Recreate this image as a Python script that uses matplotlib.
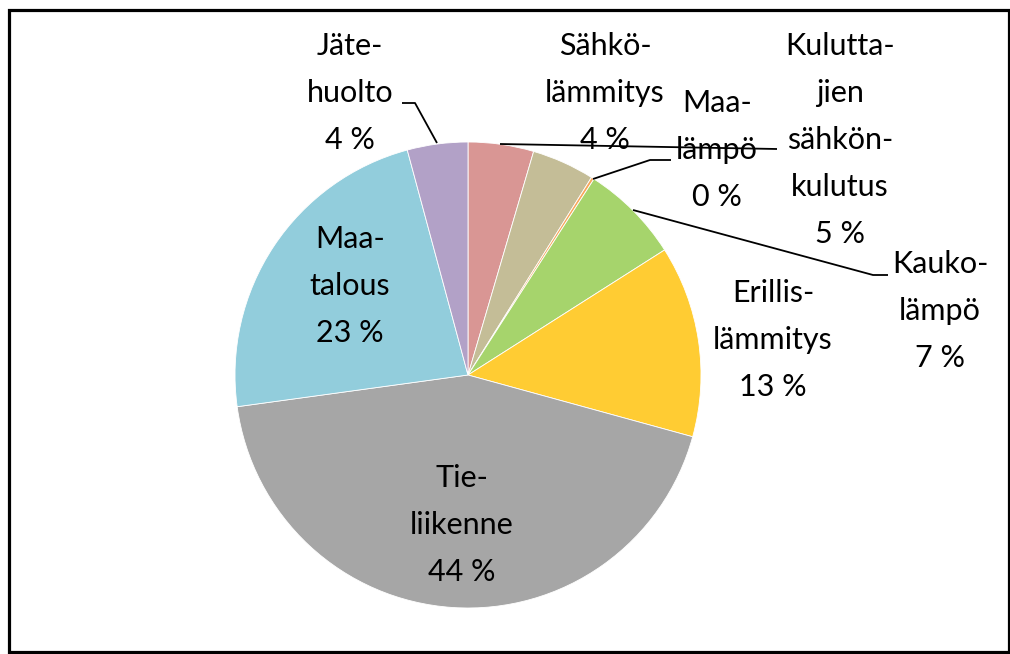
import matplotlib
matplotlib.use("Agg")
import matplotlib.pyplot as plt
from matplotlib.patches import Rectangle

W, H = 1010, 654

categories = ["Kuluttajien sähkönkulutus", "Sähkölämmitys", "Maalämpö", "Kaukolämpö",
              "Erillislämmitys", "Tieliikenne", "Maatalous", "Jätehuolto"]
values = [4.55, 4.35, 0.2, 6.9, 13.3, 43.6, 23.0, 4.2]
labels = ["Kulutta-\njien\nsähkön-\nkulutus\n5 %", "Sähkö-\nlämmitys\n4 %", "Maa-\nlämpö\n0 %",
          "Kauko-\nlämpö\n7 %", "Erillis-\nlämmitys\n13 %", "Tie-\nliikenne\n44 %",
          "Maa-\ntalous\n23 %", "Jäte-\nhuolto\n4 %"]
colors = ["#D99694", "#C4BD97", "#F9A65A", "#A6D46C", "#FFCC33", "#A6A6A6", "#92CDDC", "#B2A1C7"]

# label centre positions (pixels, from top-left)
label_pos = [(840, 140), (605, 93), (717, 150), (940, 311), (773, 340), (462, 525),
             (350, 286), (350, 93)]
# leader lines (pixels)
leaders = [
    [(500, 144), (777, 149)],
    None,
    [(593, 179), (650, 160), (671, 160)],
    [(633, 210), (873, 275), (888, 275)],
    None, None, None,
    [(437, 143), (415, 103), (402, 103)],
]

fig = plt.figure(figsize=(W / 100, H / 100), dpi=100)
ax = fig.add_axes([0, 0, 1, 1])

cx, cy, r = 468, H - 375, 233
ax.pie(values, colors=colors, startangle=90, counterclock=False,
       center=(cx, cy), radius=r, frame=True,
       wedgeprops=dict(edgecolor="white", linewidth=0.6))
ax.set_xlim(0, W)
ax.set_ylim(0, H)
ax.set_aspect("equal")
ax.axis("off")

for lab, (x, y) in zip(labels, label_pos):
    ax.text(x, H - y, lab, ha="center", va="center", fontsize=22,
            family="Lato", linespacing=1.83, color="black")

for ld in leaders:
    if ld:
        xs = [p[0] for p in ld]
        ys = [H - p[1] for p in ld]
        ax.plot(xs, ys, color="black", linewidth=1.3, solid_capstyle="butt")

fig.patches.append(Rectangle((8.5 / W, 2.5 / H), (W - 1.5 - 8.5) / W, (H - 9.5 - 2.5) / H,
                             transform=fig.transFigure, fill=False,
                             edgecolor="black", linewidth=2.3))

fig.savefig("out.png", dpi=100)
